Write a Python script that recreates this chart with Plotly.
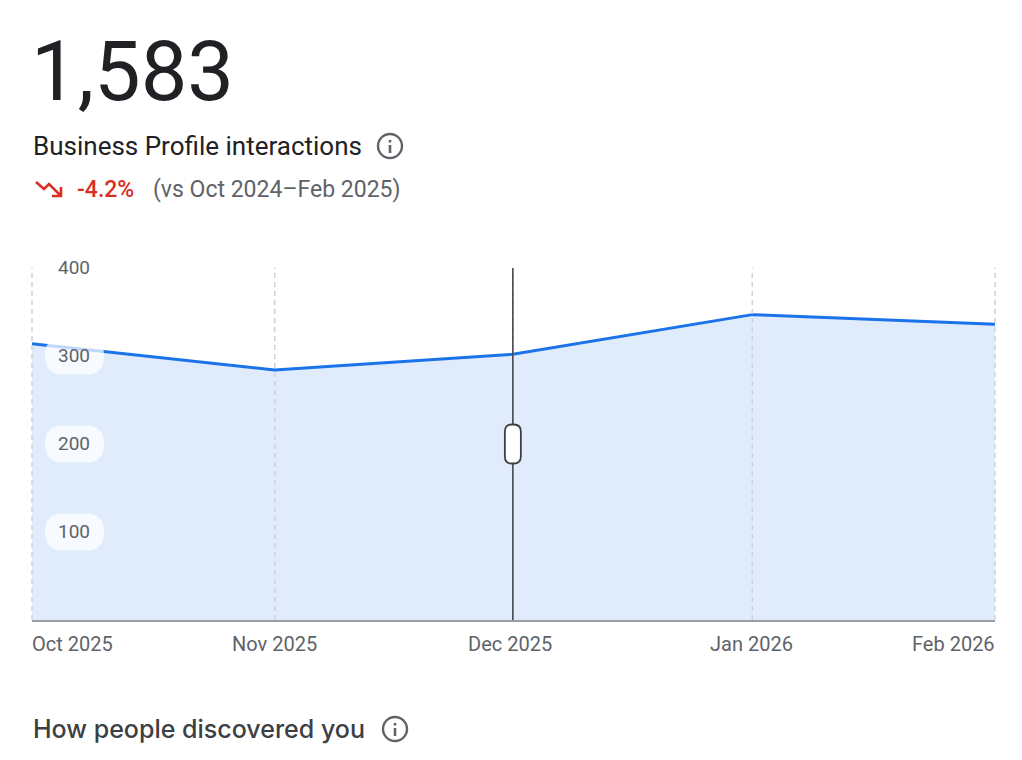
import plotly.graph_objects as go

months = ["2025-10-01", "2025-11-01", "2025-12-01 10:00", "2026-01-01", "2026-02-01"]
values = [314, 284, 302, 347, 336]
month_labels = ["Oct 2025", "Nov 2025", "Dec 2025", "Jan 2026", "Feb 2026"]
y_ticks = [100, 200, 300, 400]
cursor_month = "2025-12-01 10:00"
handle_value = 200

W, H = 1022, 760
L, R, T, B = 32, 995, 268, 620
BLUE = "#1a73e8"
GRAY = "#5f6368"
DARK = "#202124"
RED = "#d93025"


def px(x):
    return (x - L) / (R - L)


def py(y):
    return (B - y) / (B - T)


def paper_path(points):
    return "M" + " L".join(f"{px(x):.5f},{py(y):.5f}" for x, y in points)


def rounded(w, h, r):
    hw, hh = w / 2, h / 2
    return (f"M{-hw + r},{-hh} L{hw - r},{-hh} Q{hw},{-hh} {hw},{-hh + r} "
            f"L{hw},{hh - r} Q{hw},{hh} {hw - r},{hh} L{-hw + r},{hh} "
            f"Q{-hw},{hh} {-hw},{hh - r} L{-hw},{-hh + r} Q{-hw},{-hh} {-hw + r},{-hh} Z")


fig = go.Figure()
fig.add_trace(go.Scatter(
    x=months, y=values, mode="lines",
    line=dict(color=BLUE, width=3),
    fill="tozeroy", fillcolor="rgba(26,115,232,0.135)",
    hoverinfo="skip", showlegend=False,
))

shapes = []
# dashed month guides
grid = dict(color="#cdd2da", width=1.5, dash="5px,4px")
for i, m in enumerate(months):
    if i == 0:
        shapes.append(dict(type="line", xref="paper", yref="paper", x0=0, x1=0, y0=0, y1=1, line=grid))
    elif i == len(months) - 1:
        shapes.append(dict(type="line", xref="paper", yref="paper", x0=1, x1=1, y0=0, y1=1, line=grid))
    else:
        shapes.append(dict(type="line", xref="x", yref="paper", x0=m, x1=m, y0=0, y1=1, line=grid))
# cursor
shapes.append(dict(type="line", xref="x", yref="paper", x0=cursor_month, x1=cursor_month,
                   y0=0, y1=1, line=dict(color="#3c4043", width=1.5), layer="above"))
# pills behind y labels
for v in y_ticks[:3]:
    shapes.append(dict(type="path", xref="paper", yref="y", xsizemode="pixel", ysizemode="pixel",
                       xanchor=px(74.5), yanchor=v, path=rounded(59, 37, 18),
                       fillcolor="rgba(255,255,255,0.72)", line=dict(width=0), layer="above"))
# scrubber handle
shapes.append(dict(type="path", xref="x", yref="y", xsizemode="pixel", ysizemode="pixel",
                   xanchor=cursor_month, yanchor=handle_value, path=rounded(16, 39, 7),
                   fillcolor="white", line=dict(color="#3c4043", width=1.8), layer="above"))


# info icons and trend arrow
def info_icon(cx, cy):
    shapes.append(dict(type="circle", xref="paper", yref="paper",
                       x0=px(cx - 12), x1=px(cx + 12), y0=py(cy + 12), y1=py(cy - 12),
                       line=dict(color=GRAY, width=2.4)))
    shapes.append(dict(type="line", xref="paper", yref="paper",
                       x0=px(cx), x1=px(cx), y0=py(cy + 7), y1=py(cy - 1),
                       line=dict(color=GRAY, width=2.6)))
    shapes.append(dict(type="line", xref="paper", yref="paper",
                       x0=px(cx), x1=px(cx), y0=py(cy - 3.5), y1=py(cy - 6),
                       line=dict(color=GRAY, width=2.6)))


info_icon(390, 146)
info_icon(395, 729)
shapes.append(dict(type="path", xref="paper", yref="paper",
                   path=paper_path([(36, 182), (44, 189), (49, 184), (60, 195)]),
                   line=dict(color=RED, width=2.6)))
shapes.append(dict(type="path", xref="paper", yref="paper",
                   path=paper_path([(61, 187), (61, 196), (52, 196)]),
                   line=dict(color=RED, width=2.6)))

annotations = []


def page_text(x, y, text, size, color, anchor="left", weight=None, family="Roboto"):
    f = dict(family=family, size=size, color=color)
    if weight:
        f["weight"] = weight
    annotations.append(dict(xref="paper", yref="paper", x=px(x), y=py(y), text=text, showarrow=False,
                            xanchor=anchor, yanchor="middle", font=f, borderpad=0, borderwidth=0))


page_text(31, 71, "1,583", 83, DARK)
page_text(33, 146, "Business Profile interactions", 26, DARK)
page_text(77, 189, "-4.2%", 23, RED, weight=500)
page_text(153, 189, "(vs Oct 2024–Feb 2025)", 23, GRAY)
page_text(33, 729, "How people discovered you", 25, "#3c4043", weight=500, family="Inter")

for v in y_ticks:
    annotations.append(dict(xref="paper", yref="y", x=px(74), y=v, text=str(v), showarrow=False,
                            xanchor="center", yanchor="middle", yshift=1,
                            font=dict(family="Roboto", size=19, color=GRAY)))

anchors = ["left", "center", "center", "center", "right"]
shifts = [-2, 0, -3, -1, 2]
for m, lab, a, s in zip(months, month_labels, anchors, shifts):
    annotations.append(dict(xref="x", yref="paper", x=m, y=py(644), text=lab, showarrow=False,
                            xanchor=a, yanchor="middle", xshift=s,
                            font=dict(family="Roboto", size=20, color=GRAY)))

fig.update_layout(
    width=W, height=H,
    margin=dict(l=L, r=W - R, t=T, b=H - B, pad=0),
    paper_bgcolor="white", plot_bgcolor="white",
    shapes=shapes, annotations=annotations,
    hovermode=False, dragmode=False,
    xaxis=dict(type="date", range=[months[0], months[-1]], tickvals=months, showticklabels=False,
               showgrid=False, ticks="",
               showline=True, linecolor="#9aa0a6", linewidth=2, zeroline=False),
    yaxis=dict(range=[0, 400], tickvals=y_ticks, showticklabels=False, showgrid=False,
               zeroline=False, showline=False, ticks=""),
)
fig.write_html("out.html", config={"displayModeBar": False},
               post_script="document.body.style.margin='0';document.body.style.overflow='hidden';")
